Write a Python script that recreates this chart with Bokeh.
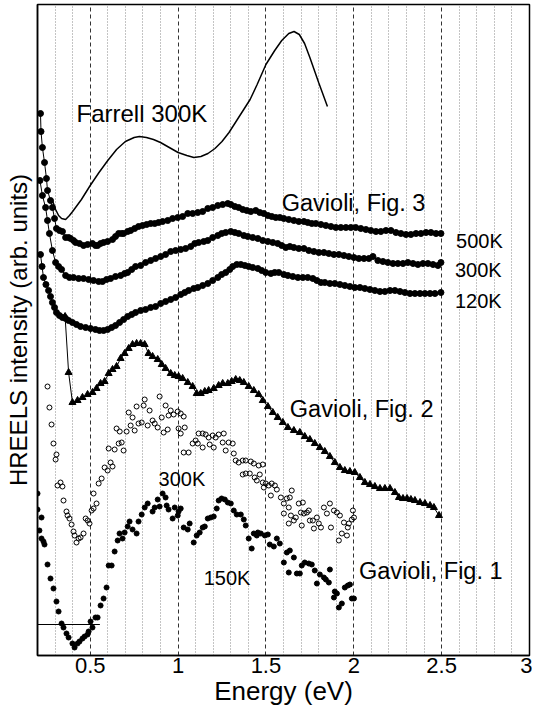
from bokeh.plotting import figure
from bokeh.models import Range1d, FixedTicker, CustomJSTickFormatter, Label
from bokeh.embed import file_html
from bokeh.resources import INLINE

FONT = "Liberation Sans"

# ---- axis ticks ----
x_major_ticks = [0.5, 1.0, 1.5, 2.0, 2.5, 3.0]
x_minor_ticks = [0.3, 0.4, 0.6, 0.7, 0.8, 0.9, 1.1, 1.2, 1.3, 1.4, 1.6, 1.7, 1.8, 1.9,
                 2.1, 2.2, 2.3, 2.4, 2.6, 2.7, 2.8, 2.9]

# ---- Farrell 300K (solid line) ----
farrell_E = [0.285, 0.303, 0.320, 0.337, 0.360, 0.382, 0.40, 0.45, 0.50, 0.55, 0.60, 0.65, 0.70,
             0.75, 0.78, 0.82, 0.86, 0.90, 0.95, 1.00, 1.05, 1.09, 1.13, 1.17, 1.21, 1.25, 1.29,
             1.33, 1.37, 1.41, 1.45, 1.50, 1.55, 1.59, 1.63, 1.66, 1.69, 1.72, 1.75, 1.80, 1.85]
farrell_I = [455, 446, 440, 437, 436, 440, 444, 456, 470, 483, 495, 506, 514,
             518, 519, 518, 516, 513, 508, 503, 500, 498, 499, 502, 507, 514, 523,
             534, 545, 556, 571, 591, 605, 615, 622, 624, 621, 612, 598, 573, 549]

# ---- Gavioli Fig. 3, 500K ----
g3_500_E = [0.217, 0.220, 0.228, 0.240, 0.251, 0.257, 0.274, 0.285, 0.297, 0.308,
            0.325, 0.342, 0.360, 0.377, 0.388, 0.405, 0.417, 0.439, 0.462, 0.485,
            0.513, 0.530, 0.542, 0.559, 0.576, 0.599, 0.627, 0.644, 0.662, 0.679,
            0.690, 0.713, 0.730, 0.753, 0.775, 0.798, 0.821, 0.844, 0.867, 0.889,
            0.912, 0.941, 0.969, 0.998, 1.026, 1.055, 1.083, 1.112, 1.140, 1.169,
            1.197, 1.226, 1.254, 1.283, 1.300, 1.323, 1.345, 1.368, 1.391, 1.414,
            1.442, 1.465, 1.488, 1.511, 1.533, 1.556, 1.579, 1.602, 1.630, 1.659,
            1.687, 1.716, 1.738, 1.761, 1.784, 1.813, 1.841, 1.870, 1.898, 1.926,
            1.955, 1.983, 2.011, 2.040, 2.069, 2.097, 2.126, 2.154, 2.183, 2.211,
            2.240, 2.268, 2.297, 2.325, 2.354, 2.382, 2.411, 2.439, 2.468, 2.496]
g3_500_I = [542, 524, 508, 493, 477, 465, 455, 448, 437, 427,
            425, 424, 418, 418, 417, 415, 413, 412, 410, 411,
            412, 410, 410, 412, 413, 414, 416, 419, 422, 422,
            422, 424, 425, 427, 429, 430, 431, 432, 432, 433,
            434, 435, 437, 438, 439, 442, 442, 443, 444, 447,
            448, 450, 451, 452, 451, 449, 448, 446, 445, 444,
            445, 443, 442, 440, 439, 438, 438, 437, 436, 435,
            434, 434, 433, 432, 432, 431, 430, 429, 428, 428,
            428, 428, 428, 427, 426, 425, 424, 424, 425, 425,
            423, 422, 421, 421, 422, 422, 423, 423, 422, 422]

# ---- Gavioli Fig. 3, 300K ----
g3_300_E = [0.214, 0.228, 0.246, 0.257, 0.268, 0.285, 0.303, 0.320, 0.337, 0.360,
            0.382, 0.405, 0.434, 0.462, 0.491, 0.519, 0.548, 0.570, 0.593, 0.616,
            0.644, 0.673, 0.696, 0.713, 0.736, 0.758, 0.787, 0.815, 0.844, 0.872,
            0.901, 0.929, 0.958, 0.986, 1.015, 1.043, 1.072, 1.095, 1.117, 1.146,
            1.169, 1.197, 1.226, 1.248, 1.271, 1.300, 1.323, 1.345, 1.374, 1.397,
            1.425, 1.454, 1.482, 1.511, 1.539, 1.567, 1.590, 1.613, 1.636, 1.659,
            1.687, 1.716, 1.744, 1.773, 1.801, 1.830, 1.858, 1.887, 1.915, 1.944,
            1.972, 2.001, 2.029, 2.058, 2.086, 2.109, 2.137, 2.166, 2.194, 2.223,
            2.251, 2.280, 2.308, 2.337, 2.365, 2.394, 2.422, 2.451, 2.479, 2.496]
g3_300_I = [475, 460, 448, 435, 422, 405, 393, 389, 386, 380,
            378, 378, 377, 377, 376, 375, 374, 374, 376, 377,
            379, 380, 382, 383, 386, 389, 390, 393, 395, 397,
            399, 401, 404, 405, 406, 407, 409, 412, 413, 414,
            415, 418, 420, 422, 423, 424, 423, 422, 420, 419,
            418, 417, 415, 414, 413, 412, 410, 408, 409, 408,
            407, 407, 405, 404, 403, 403, 402, 401, 401, 400,
            399, 398, 397, 397, 397, 399, 395, 394, 393, 392,
            392, 392, 393, 392, 391, 392, 392, 391, 390, 393]

# ---- Gavioli Fig. 3, 120K ----
g3_120_E = [0.217, 0.226, 0.234, 0.248, 0.263, 0.274, 0.285, 0.297, 0.308, 0.325,
            0.342, 0.360, 0.377, 0.399, 0.422, 0.445, 0.474, 0.502, 0.530, 0.553,
            0.576, 0.599, 0.622, 0.644, 0.667, 0.690, 0.713, 0.736, 0.758, 0.787,
            0.815, 0.844, 0.872, 0.901, 0.929, 0.958, 0.986, 1.015, 1.038, 1.060,
            1.089, 1.112, 1.140, 1.169, 1.197, 1.226, 1.248, 1.271, 1.294, 1.311,
            1.334, 1.357, 1.380, 1.402, 1.425, 1.454, 1.476, 1.499, 1.528, 1.550,
            1.573, 1.602, 1.625, 1.653, 1.682, 1.710, 1.738, 1.767, 1.790, 1.813,
            1.835, 1.864, 1.892, 1.921, 1.949, 1.978, 2.006, 2.035, 2.063, 2.092,
            2.120, 2.149, 2.177, 2.206, 2.234, 2.263, 2.291, 2.320, 2.348, 2.377,
            2.405, 2.434, 2.462, 2.496]
g3_120_I = [401, 389, 378, 371, 365, 359, 353, 348, 343, 340,
            338, 337, 335, 333, 331, 329, 328, 327, 326, 325,
            325, 326, 328, 330, 333, 336, 339, 341, 343, 345,
            346, 348, 349, 352, 354, 356, 358, 361, 363, 365,
            367, 368, 370, 372, 375, 378, 381, 383, 386, 389,
            391, 391, 390, 389, 388, 387, 385, 383, 382, 383,
            383, 381, 380, 379, 378, 378, 378, 377, 375, 373,
            373, 372, 372, 371, 370, 369, 368, 368, 367, 366,
            365, 364, 364, 365, 365, 364, 363, 362, 362, 362,
            362, 362, 362, 363]

# ---- Gavioli Fig. 2 (triangles) ----
g2_E = [0.357, 0.377, 0.399, 0.428, 0.456, 0.485, 0.513, 0.536, 0.559, 0.582,
        0.605, 0.627, 0.650, 0.673, 0.696, 0.719, 0.741, 0.764, 0.787, 0.810,
        0.832, 0.855, 0.884, 0.907, 0.929, 0.958, 0.981, 1.003, 1.026, 1.055,
        1.083, 1.106, 1.129, 1.152, 1.174, 1.203, 1.231, 1.254, 1.283, 1.305,
        1.328, 1.351, 1.374, 1.402, 1.431, 1.459, 1.482, 1.511, 1.539, 1.567,
        1.596, 1.625, 1.659, 1.693, 1.721, 1.750, 1.778, 1.807, 1.835, 1.864,
        1.892, 1.921, 1.949, 1.978, 2.006, 2.035, 2.063, 2.092, 2.120, 2.149,
        2.177, 2.206, 2.234, 2.257, 2.280, 2.303, 2.325, 2.348, 2.377, 2.405,
        2.434, 2.456, 2.485]
g2_I = [339, 283, 253, 255, 258, 261, 263, 267, 272, 274,
        282, 286, 289, 297, 302, 307, 311, 312, 312, 311,
        302, 299, 296, 291, 287, 282, 280, 279, 277, 273,
        269, 262, 262, 264, 265, 267, 270, 272, 272, 274,
        276, 275, 273, 269, 265, 261, 255, 249, 243, 238,
        233, 228, 225, 223, 219, 216, 212, 208, 204, 199,
        193, 188, 185, 184, 183, 178, 173, 171, 169, 167,
        167, 167, 163, 158, 157, 157, 156, 155, 153, 152,
        150, 148, 140]

# ---- Gavioli Fig. 1, 300K (open circles): (energy, intensity) ----
g1_300 = [(0.257, 269), (0.268, 248), (0.280, 231), (0.291, 212), (0.308, 201), (0.303, 196),
          (0.314, 170), (0.331, 173), (0.342, 169), (0.348, 155), (0.365, 144), (0.371, 140),
          (0.382, 137), (0.394, 131), (0.405, 124), (0.411, 120), (0.422, 113), (0.434, 117),
          (0.445, 118), (0.462, 122), (0.474, 137), (0.485, 135), (0.496, 132), (0.508, 145),
          (0.519, 147), (0.536, 152), (0.519, 162), (0.548, 172), (0.565, 177), (0.582, 188),
          (0.599, 185), (0.616, 193), (0.627, 189), (0.605, 207), (0.639, 206), (0.662, 212),
          (0.679, 213), (0.690, 205), (0.650, 227), (0.668, 224), (0.707, 224), (0.719, 243),
          (0.730, 230), (0.741, 238), (0.753, 225), (0.764, 249), (0.775, 232), (0.793, 233),
          (0.804, 250), (0.810, 256), (0.827, 230), (0.838, 245), (0.855, 235), (0.867, 232),
          (0.884, 228), (0.895, 259), (0.907, 238), (0.918, 223), (0.941, 226), (0.929, 250),
          (0.946, 240), (0.958, 245), (0.975, 241), (0.998, 244), (1.015, 242), (1.032, 239),
          (1.003, 227), (1.015, 222), (1.038, 228), (1.032, 203), (1.060, 203), (1.083, 212),
          (1.100, 215), (1.117, 222), (1.140, 222), (1.157, 221), (1.174, 218), (1.197, 220),
          (1.214, 218), (1.231, 221), (1.260, 222), (1.140, 208), (1.112, 212), (1.180, 211),
          (1.203, 208), (1.254, 213), (1.271, 205), (1.288, 213), (1.311, 212), (1.317, 202),
          (1.328, 195), (1.345, 193), (1.368, 195), (1.385, 195), (1.414, 194), (1.431, 192),
          (1.459, 190), (1.482, 191), (1.368, 181), (1.385, 182), (1.408, 182), (1.436, 178),
          (1.465, 181), (1.448, 175), (1.482, 173), (1.499, 172), (1.488, 168), (1.516, 170),
          (1.533, 172), (1.551, 170), (1.562, 166), (1.528, 160), (1.585, 158), (1.602, 152),
          (1.619, 157), (1.636, 158), (1.647, 165), (1.630, 148), (1.602, 142), (1.642, 140),
          (1.687, 152), (1.710, 153), (1.699, 143), (1.670, 138), (1.630, 132), (1.659, 135),
          (1.716, 142), (1.733, 143), (1.704, 130), (1.750, 135), (1.744, 145), (1.767, 135),
          (1.790, 138), (1.801, 132), (1.773, 127), (1.813, 128), (1.830, 148), (1.847, 142),
          (1.864, 152), (1.887, 145), (1.904, 143), (1.921, 140), (1.870, 128), (1.915, 115),
          (1.932, 122), (1.961, 120), (1.944, 133), (1.972, 132), (1.989, 136), (1.995, 145),
          (2.001, 138), (1.966, 128)]

# ---- Gavioli Fig. 1, 150K (filled dots): (energy, intensity) ----
g1_150 = [(0.200, 162), (0.200, 146), (0.223, 138), (0.211, 125), (0.223, 117), (0.234, 114),
          (0.240, 111), (0.257, 91), (0.274, 77), (0.291, 67), (0.308, 54), (0.320, 44),
          (0.337, 32), (0.348, 28), (0.365, 22), (0.377, 18), (0.399, 12), (0.411, 8),
          (0.428, 12), (0.439, 14), (0.456, 17), (0.468, 19), (0.485, 21), (0.491, 24),
          (0.502, 34), (0.513, 28), (0.530, 38), (0.542, 38), (0.559, 50), (0.576, 57),
          (0.593, 68), (0.605, 90), (0.622, 90), (0.639, 104), (0.656, 115), (0.667, 122),
          (0.684, 117), (0.696, 123), (0.713, 129), (0.724, 134), (0.741, 126), (0.764, 122),
          (0.775, 134), (0.793, 141), (0.810, 148), (0.827, 152), (0.855, 144), (0.867, 148),
          (0.884, 156), (0.895, 149), (0.912, 162), (0.929, 158), (0.935, 150), (0.946, 146),
          (0.969, 137), (0.981, 148), (0.998, 140), (1.003, 144), (1.015, 147), (1.032, 128),
          (1.055, 126), (1.066, 132), (1.089, 113), (1.106, 120), (1.123, 123), (1.140, 128),
          (1.152, 129), (1.169, 137), (1.186, 138), (1.203, 139), (1.220, 147), (1.231, 155),
          (1.248, 157), (1.266, 156), (1.283, 153), (1.300, 152), (1.317, 145), (1.334, 141),
          (1.357, 141), (1.374, 136), (1.385, 130), (1.402, 117), (1.419, 107), (1.431, 122),
          (1.448, 120), (1.454, 123), (1.471, 122), (1.494, 120), (1.511, 121), (1.522, 111),
          (1.545, 109), (1.562, 117), (1.579, 112), (1.602, 93), (1.619, 103), (1.636, 105),
          (1.659, 98), (1.630, 83), (1.676, 82), (1.693, 82), (1.704, 90), (1.721, 93),
          (1.744, 92), (1.761, 91), (1.778, 85), (1.790, 72), (1.807, 81), (1.830, 78),
          (1.841, 76), (1.858, 73), (1.864, 86), (1.892, 64), (1.887, 58), (1.904, 62),
          (1.915, 48), (1.932, 52), (1.949, 68), (1.966, 70), (1.978, 71), (1.989, 57),
          (2.001, 57)]

# ---- baseline marker ----
base_E = [0.2, 0.555]
base_I = [31, 31]

# ---- annotations: (text, energy, intensity at baseline, font size) ----
annotations = [
    ("Farrell 300K", 0.422, 542, "24px"),
    ("Gavioli, Fig. 3", 1.590, 453, "23.5px"),
    ("500K", 2.582, 415, "20px"),
    ("300K", 2.576, 386, "20px"),
    ("120K", 2.576, 355, "20px"),
    ("Gavioli, Fig. 2", 1.636, 247, "23.5px"),
    ("300K", 0.889, 177, "20px"),
    ("150K", 1.146, 78, "20px"),
    ("Gavioli, Fig. 1", 2.029, 85, "23.5px"),
]

p = figure(width=532, height=712, x_range=Range1d(0.2, 3.0), y_range=Range1d(0, 651),
           output_backend="svg", toolbar_location=None,
           min_border_left=37, min_border_right=3, min_border_top=4, min_border_bottom=57)
p.background_fill_color = "white"
p.border_fill_color = "white"
p.outline_line_color = "black"
p.outline_line_width = 1.5

ticker = FixedTicker(ticks=x_major_ticks, minor_ticks=x_minor_ticks)
p.xaxis.ticker = ticker
p.xgrid.ticker = ticker
p.xaxis.formatter = CustomJSTickFormatter(code="return String(tick);")
p.xaxis.axis_label = "Energy (eV)"
p.xaxis.axis_label_text_font = FONT
p.xaxis.axis_label_text_font_size = "26px"
p.xaxis.axis_label_text_font_style = "normal"
p.xaxis.axis_label_text_color = "black"
p.xaxis.axis_label_standoff = 0
p.xaxis.major_label_text_font = FONT
p.xaxis.major_label_text_font_size = "22px"
p.xaxis.major_label_text_color = "black"
p.xaxis.major_label_standoff = 2
p.xaxis.major_tick_line_color = None
p.xaxis.minor_tick_line_color = None
p.xaxis.major_tick_out = 0
p.xaxis.minor_tick_out = 0
p.xaxis.axis_line_color = "black"
p.xaxis.axis_line_width = 1.5

p.yaxis.ticker = FixedTicker(ticks=[])
p.yaxis.axis_label = "HREELS intensity (arb. units)"
p.yaxis.axis_label_text_font = FONT
p.yaxis.axis_label_text_font_size = "24px"
p.yaxis.axis_label_text_font_style = "normal"
p.yaxis.axis_label_text_color = "black"
p.yaxis.axis_label_standoff = 6
p.yaxis.major_tick_line_color = None
p.yaxis.minor_tick_line_color = None
p.yaxis.major_tick_out = 0
p.yaxis.minor_tick_out = 0
p.yaxis.axis_line_color = "black"
p.yaxis.axis_line_width = 1.5

p.xgrid.grid_line_color = "#333333"
p.xgrid.grid_line_dash = "4 3"
p.xgrid.grid_line_width = 1
p.xgrid.minor_grid_line_color = "#888888"
p.xgrid.minor_grid_line_dash = "1 2"
p.xgrid.minor_grid_line_width = 1
p.ygrid.visible = False

# Farrell
p.line(farrell_E, farrell_I, line_color="black", line_width=1.5)

# Gavioli Fig. 3
for E, I in [(g3_500_E, g3_500_I), (g3_300_E, g3_300_I), (g3_120_E, g3_120_I)]:
    p.line(E, I, line_color="black", line_width=1)
    p.scatter(E, I, marker="circle", size=6, fill_color="black", line_color="black")

# Gavioli Fig. 2
p.line(g2_E, g2_I, line_color="black", line_width=1)
p.scatter(g2_E, g2_I, marker="triangle", size=7, fill_color="black", line_color="black")

# Gavioli Fig. 1
p.scatter([e for e, _ in g1_300], [i for _, i in g1_300], marker="circle", size=5,
          fill_color=None, line_color="black", line_width=1)
p.scatter([e for e, _ in g1_150], [i for _, i in g1_150], marker="circle", size=5,
          fill_color="black", line_color="black")

p.line(base_E, base_I, line_color="black", line_width=1)

for text, ex, iy, fs in annotations:
    p.add_layout(Label(x=ex, y=iy, text=text, text_font=FONT, text_font_size=fs,
                       text_color="black", text_align="left", text_baseline="alphabetic"))

open("out.html", "w").write(file_html(p, INLINE))
